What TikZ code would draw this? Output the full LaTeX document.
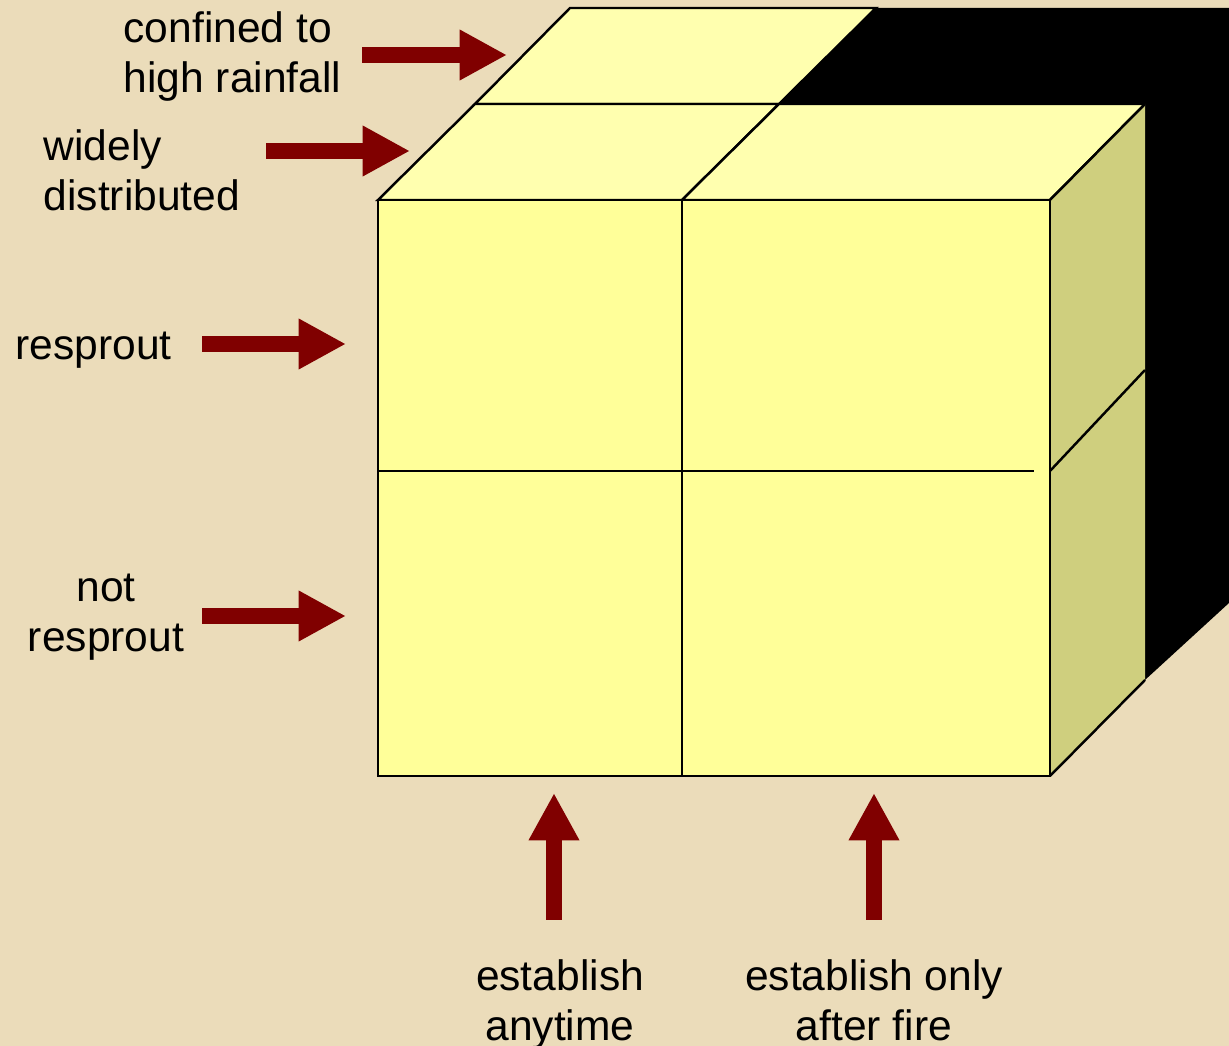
\documentclass[tikz,border=0pt]{standalone}
\usepackage{fontspec}
\setmainfont{Liberation Sans}
\usetikzlibrary{arrows.meta}
\definecolor{bg}{RGB}{235,220,186}
\definecolor{frontc}{RGB}{255,255,153}
\definecolor{topc}{RGB}{255,255,175}
\definecolor{sidec}{RGB}{207,207,126}
\definecolor{arr}{RGB}{128,0,0}
\begin{document}
\begin{tikzpicture}[x=0.01cm,y=-0.01cm,line join=miter,
  edge/.style={draw=black,line width=0.7pt},
  blockarrow/.style={draw=arr,line width=4.55pt,-{Triangle[length=13.5pt,width=13.5pt]}},
  lbl/.style={inner sep=0pt,font=\fontsize{12.1pt}{14.2pt}\selectfont}]
% background / bounding box
\fill[bg] (0,0) rectangle (1229,1046);
\useasboundingbox (0,0) rectangle (1229,1046);
% black shadow block
\fill[black] (779,104) -- (876,8) -- (1229,8) -- (1229,603) -- (1145,680) -- (1145,104) -- cycle;
% top faces
\filldraw[fill=topc,edge] (475,104) -- (570,8) -- (876,8) -- (779,104) -- cycle;
\filldraw[fill=topc,edge] (378,200) -- (475,104) -- (779,104) -- (682,200) -- cycle;
\filldraw[fill=topc,edge] (682,200) -- (779,104) -- (1145,104) -- (1050,200) -- cycle;
% side face
\fill[sidec] (1050,200) -- (1145,104) -- (1145,680) -- (1050,776) -- cycle;
\draw[edge] (1050,200) -- (1145,104);
\draw[edge] (1050,776) -- (1145,680);
\draw[edge] (1050,471) -- (1145,370);
% front face
\filldraw[fill=frontc,edge] (378,200) rectangle (1050,776);
\draw[edge] (682,200) -- (682,776);
\draw[edge] (378,471) -- (1034,471);
% labels
\node[lbl,anchor=base west] (lrain) at (123,43) {\begin{tabular}[t]{@{}l@{}}confined to\\high rainfall\end{tabular}};
\node[lbl,anchor=base west] (lwide) at (43,161) {\begin{tabular}[t]{@{}l@{}}widely\\distributed\end{tabular}};
\node[lbl,anchor=base west] (lres) at (15,360) {resprout};
\node[lbl,anchor=base] (lnot) at (106,602) {\begin{tabular}[t]{@{}c@{}}not\\resprout\end{tabular}};
\node[lbl,anchor=base] (lany) at (560,991) {\begin{tabular}[t]{@{}c@{}}establish\\anytime\end{tabular}};
\node[lbl,anchor=base] (lfire) at (874,991) {\begin{tabular}[t]{@{}c@{}}establish only\\after fire\end{tabular}};
% arrow end points
\coordinate (a1s) at (362,55);  \coordinate (a1e) at (507,55);
\coordinate (a2s) at (266,151); \coordinate (a2e) at (410,151);
\coordinate (a3s) at (202,344); \coordinate (a3e) at (346,344);
\coordinate (a4s) at (202,616); \coordinate (a4e) at (346,616);
\coordinate (a5s) at (554,920); \coordinate (a5e) at (554,793);
\coordinate (a6s) at (874,920); \coordinate (a6e) at (874,793);
\draw[blockarrow] (a1s) -- (a1e);
\draw[blockarrow] (a2s) -- (a2e);
\draw[blockarrow] (a3s) -- (a3e);
\draw[blockarrow] (a4s) -- (a4e);
\draw[blockarrow] (a5s) -- (a5e);
\draw[blockarrow] (a6s) -- (a6e);
\end{tikzpicture}
\end{document}
